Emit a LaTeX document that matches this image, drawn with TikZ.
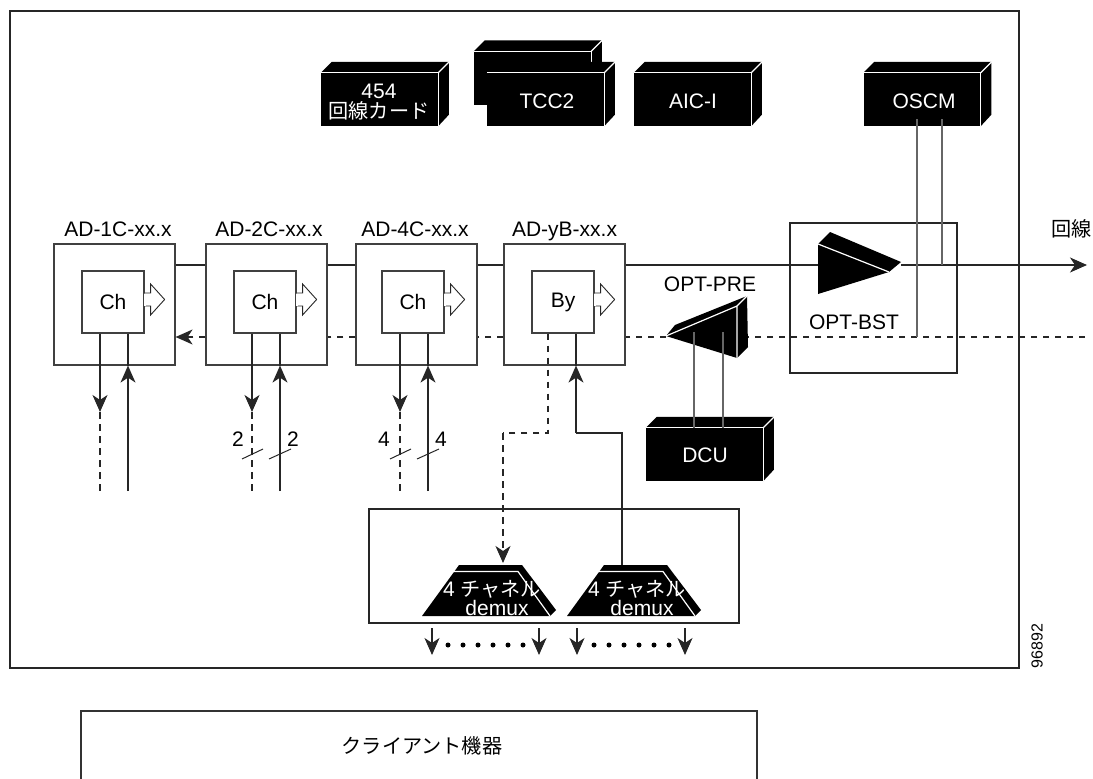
\documentclass[tikz,border=0pt]{standalone}
\usepackage{fontspec}
\setmainfont{Liberation Sans}
\newfontfamily\cjk[Scale=0.96]{Noto Sans CJK JP}
\usetikzlibrary{arrows.meta}
\tikzset{
  labeltext/.style={inner sep=0pt, font=\fontsize{21}{23}\selectfont},
  whitetext/.style={labeltext, text=white, align=center},
  conn/.style={line width=1.1pt, draw=black!85},
  tapline/.style={line width=1.2pt, draw=black!60},
  dashline/.style={conn, dash pattern=on 6.5pt off 5.5pt},
  tip/.style={-{Stealth[length=17pt, width=15pt, inset=5pt]}},
  module/.style={draw=black!75, line width=1.2pt, minimum width=121pt, minimum height=121pt, inner sep=0pt},
  chbox/.style={draw=black!75, line width=1.2pt, minimum width=62pt, minimum height=62pt, labeltext},
  cardbox/.style={fill=black, minimum width=117pt, minimum height=53pt, inner sep=0pt},
  whiteedge/.style={draw=white, line width=1.2pt},
  hollowarrow/.pic={
    \filldraw[fill=white, draw=black!85, line width=0.9pt] (0,-6.5) -- (6,-6.5) -- (6,-15.5) -- (20,0) -- (6,15.5) -- (6,6.5) -- (0,6.5);
    \fill[white] (-1,-6) rectangle (1,6);
  },
  smalldot/.style={circle, fill=black, minimum size=5pt, inner sep=0pt},
}
% box with a top and a side
\newcommand{\carddepth}[1]{
  \fill (#1.north west) -- ++(11,-11) -- ++(117,0) -- ++(0,53) -- (#1.south east) -- (#1.north east) -- cycle;
  \draw[whiteedge] (#1.north west) -- (#1.north east) -- (#1.south east);
  \draw[whiteedge] (#1.north east) -- ++(11,-11);
}
\newcommand{\demuxshape}[1]{
  \fill (#1,616) -- (#1+32,572) -- (#1+37,565) -- (#1+100,565) -- (#1+134,610) -- (#1+128,616) -- cycle;
  \draw[whiteedge] (#1+31,571.5) -- (#1+96,571.5) -- (#1+128,616);
}
\begin{document}
\begin{tikzpicture}[x=1pt, y=-1pt]
  \useasboundingbox (0,0) rectangle (1093,779);
  % frames
  \node[draw=black!85, line width=1.2pt, minimum width=1009pt, minimum height=657pt, inner sep=0pt] (frame) at (514.5,339.5) {};
  \draw[line width=1.2pt, draw=black!80] (81,779) -- (81,711) -- (757,711) -- (757,779);
  \node[labeltext] (client) at (422,746) {\cjk クライアント機器};
  \node[font=\fontsize{16}{18}\selectfont, rotate=90, inner sep=0pt] (partno) at (1037,646) {96892};

  \coordinate (main) at (0,265);
  \coordinate (back) at (0,337);
  \coordinate (bot) at (0,491);
  \coordinate (lineout) at (1087,265);
  \coordinate (backin) at (1085,337);

  % modules
  \node[module] (ad1) at (114.5,304.5) {};
  \node[module] (ad2) at (266.5,304.5) {};
  \node[module] (ad4) at (416.5,304.5) {};
  \node[module] (ady) at (564.5,304.5) {};
  \node[labeltext] (ad1lab) at (118,229) {AD-1C-xx.x};
  \node[labeltext] (ad2lab) at (269,229) {AD-2C-xx.x};
  \node[labeltext] (ad4lab) at (415,229) {AD-4C-xx.x};
  \node[labeltext] (adylab) at (564.5,231) {AD-yB-xx.x};
  \node[chbox] (ch1) at (113,302) {Ch};
  \node[chbox] (ch2) at (265,302) {Ch};
  \node[chbox] (ch4) at (413,302) {Ch};
  \node[chbox] (by) at (563,302) {By};
  \pic at ([yshift=2.5pt]ch1.east) {hollowarrow};
  \pic at ([yshift=2.5pt]ch2.east) {hollowarrow};
  \pic at ([yshift=2.5pt]ch4.east) {hollowarrow};
  \pic at ([yshift=2.5pt]by.east) {hollowarrow};

  % cards on top
  \node[cardbox] (line454) at (379.5,99.5) {};
  \carddepth{line454}
  \node[cardbox] (tccback) at (532.5,78) {};
  \carddepth{tccback}
  \node[cardbox] (tcc) at (545.5,99.5) {};
  \carddepth{tcc}
  \node[cardbox] (aic) at (692.5,99.5) {};
  \carddepth{aic}
  \node[cardbox] (oscm) at (922,99.5) {};
  \carddepth{oscm}
  \node[cardbox] (dcu) at (704.5,454.5) {};
  \carddepth{dcu}
  \node[whitetext] (line454lab) at (379,91) {454};
  \node[whitetext] (line454labb) at (379,111) {\cjk 回線カード};
  \node[whitetext] (tcclab) at (547,101) {TCC2};
  \node[whitetext] (aiclab) at (693,101) {AIC-I};
  \node[whitetext] (oscmlab) at (924,101) {OSCM};
  \node[whitetext] (dculab) at (705,455) {DCU};

  % amplifiers
  \node[draw=black!85, line width=1.2pt, minimum width=167pt, minimum height=150pt, inner sep=0pt] (bst) at (873.5,298) {};
  \coordinate (bsta) at (818,244);
  \coordinate (bstb) at (889,272);
  \coordinate (bstc) at (818,294);
  \coordinate (bstd) at (830,232);
  \coordinate (bste) at (901,262);
  \coordinate (prea) at (666,336);
  \coordinate (preb) at (737,306);
  \coordinate (prec) at (737,358);
  \coordinate (pred) at (675,325);
  \coordinate (pree) at (747,296);
  \coordinate (pref) at (748,347);

  % main lines
  \draw[conn] (ad1.east |- main) -- (ad2.west |- main);
  \draw[conn] (ad2.east |- main) -- (ad4.west |- main);
  \draw[conn] (ad4.east |- main) -- (ady.west |- main);
  \draw[conn] (ady.east |- main) -- (bsta |- main);
  \draw[conn, tip] (bste |- main) -- (lineout);
  \draw[dashline] (backin) -- (pref |- back);
  \draw[dashline] (prea |- back) -- (ady.east |- back);
  \draw[dashline] (ady.west |- back) -- (ad4.east |- back);
  \draw[dashline] (ad4.west |- back) -- (ad2.east |- back);
  \draw[dashline, tip] (ad2.west |- back) -- (ad1.east |- back);

  \fill (bsta) -- (bstd) -- (bste) -- (bstb) -- (bstc) -- cycle;
  \draw[whiteedge] (bsta) -- (bstb);
  \fill (prea) -- (pred) -- (pree) -- (pref) -- (prec) -- cycle;
  \draw[whiteedge] (prea) -- (preb) -- (prec);
  \draw[whiteedge] (preb) -- (pree);
  \node[labeltext] (bstlab) at (854,322) {OPT-BST};
  \node[labeltext] (prelab) at (710,284) {OPT-PRE};
  \node[labeltext] (linelab) at (1071.5,229) {\cjk 回線};

  % taps
  \coordinate (dcua) at (694,332);
  \coordinate (dcub) at (723,332);
  \draw[tapline] (dcua) -- (dcua |- dcu.north);
  \draw[tapline] (dcub) -- (dcub |- dcu.north);
  \coordinate (oscma) at (917,119);
  \coordinate (oscmb) at (942,119);
  \draw[tapline] (oscma) -- (oscma |- back);
  \draw[tapline] (oscmb) -- (oscmb |- main);

  % client fibres
  \coordinate (d1) at (100,412);
  \coordinate (d2) at (252,412);
  \coordinate (d4) at (400,412);
  \coordinate (u1) at (128,491);
  \coordinate (u2) at (280,491);
  \coordinate (u4) at (428,491);
  \draw[conn, tip] (d1 |- ch1.south) -- (d1);
  \draw[conn, tip] (d2 |- ch2.south) -- (d2);
  \draw[conn, tip] (d4 |- ch4.south) -- (d4);
  \draw[dashline] (d1) -- (d1 |- bot);
  \draw[dashline] (d2) -- (d2 |- bot);
  \draw[dashline] (d4) -- (d4 |- bot);
  \draw[conn, tip] (u1) -- (u1 |- ad1.south);
  \draw[conn, tip] (u2) -- (u2 |- ad2.south);
  \draw[conn, tip] (u4) -- (u4 |- ad4.south);
  \draw[conn] (u1 |- ad1.south) -- (u1 |- ch1.south);
  \draw[conn] (u2 |- ad2.south) -- (u2 |- ch2.south);
  \draw[conn] (u4 |- ad4.south) -- (u4 |- ch4.south);

  \draw[conn, line width=1pt] (242,459) -- (263,449);
  \draw[conn, line width=1pt] (269,459) -- (291,449);
  \draw[conn, line width=1pt] (390,459) -- (411,449);
  \draw[conn, line width=1pt] (417,459) -- (439,449);
  \node[labeltext] (n2a) at (238,439) {2};
  \node[labeltext] (n2b) at (293,439) {2};
  \node[labeltext] (n4a) at (384,439) {4};
  \node[labeltext] (n4b) at (441,439) {4};

  % demux group
  \node[draw=black!85, line width=1.2pt, minimum width=370pt, minimum height=114pt, inner sep=0pt] (group) at (554,566) {};
  \demuxshape{422}
  \demuxshape{567}
  \coordinate (dmxatop) at (503,563);
  \coordinate (dmxbtop) at (622,565);
  \coordinate (bya) at (548,433);
  \coordinate (byb) at (576,433);
  \draw[dashline] (bya |- by.south) -- (bya) -- (dmxatop |- bya);
  \draw[dashline, tip] (dmxatop |- bya) -- (dmxatop);
  \draw[conn, tip] (byb) -- (byb |- ady.south);
  \draw[conn] (byb |- ady.south) -- (byb |- by.south);
  \draw[conn] (byb) -- (dmxbtop |- byb) -- (dmxbtop);
  \node[whitetext] (dmxalab) at (492,589) {4 {\cjk チャネル}};
  \node[whitetext] (dmxalabb) at (497,608) {demux};
  \node[whitetext] (dmxblab) at (637,589) {4 {\cjk チャネル}};
  \node[whitetext] (dmxblabb) at (642,608) {demux};

  % outputs
  \draw[conn, tip] (432,628) -- (432,655);
  \draw[conn, tip] (539,628) -- (539,655);
  \draw[conn, tip] (577,628) -- (577,655);
  \draw[conn, tip] (685,628) -- (685,655);
  \foreach \x in {448,463,478,493,508,523,594,609,624,639,654,669}
    \node[smalldot] at (\x,645) {};
\end{tikzpicture}
\end{document}
